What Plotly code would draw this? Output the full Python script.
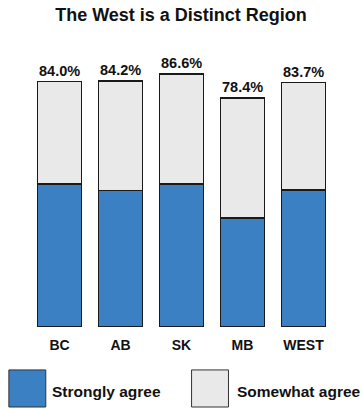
import plotly.graph_objects as go

# Survey results: share agreeing that the West is a distinct region
regions = ["BC", "AB", "SK", "MB", "WEST"]
total_agree = [84.0, 84.2, 86.6, 78.4, 83.7]
strongly_agree = [49.0, 46.7, 49.0, 37.4, 46.9]
somewhat_agree = [round(t - s, 1) for t, s in zip(total_agree, strongly_agree)]

series_names = ["Strongly agree", "Somewhat agree"]
BLUE = "#3b80c3"
GRAY = "#e9e9e9"
EDGE = "#1a1a1a"
FONT = "Liberation Sans, Arial, sans-serif"

fig = go.Figure()
fig.add_trace(go.Bar(
    x=regions, y=strongly_agree, name=series_names[0],
    marker=dict(color=BLUE, line=dict(color=EDGE, width=1.5)),
    hoverinfo="skip",
))
fig.add_trace(go.Bar(
    x=regions, y=somewhat_agree, name=series_names[1],
    marker=dict(color=GRAY, line=dict(color=EDGE, width=1.5)),
    hoverinfo="skip",
))

# Total labels above each stack
for r, t in zip(regions, total_agree):
    fig.add_annotation(
        x=r, y=t, text=f"<b>{t:.1f}%</b>", showarrow=False,
        yanchor="bottom", yshift=2, borderpad=0,
        font=dict(family=FONT, size=14.5, color="#111111"),
    )

# Custom legend with large swatches below the plot
legend_items = [
    (series_names[0], BLUE, -0.066, 0.055, 0.069),
    (series_names[1], GRAY, 0.533, 0.654, 0.675),
]
for name, color, x0, x1, tx in legend_items:
    fig.add_shape(
        type="rect", xref="paper", yref="paper",
        x0=x0, x1=x1, y0=-0.274, y1=-0.147,
        fillcolor=color, line=dict(color="#333333", width=1),
    )
    fig.add_annotation(
        xref="paper", yref="paper", x=tx, y=-0.22,
        xanchor="left", yanchor="middle", showarrow=False,
        text=f"<b>{name}</b>",
        font=dict(family=FONT, size=15.5, color="#111111"),
    )

fig.update_layout(
    width=362, height=409,
    margin=dict(l=29, r=28, t=35, b=82),
    barmode="stack", bargap=0.273,
    showlegend=False,
    plot_bgcolor="white", paper_bgcolor="white",
    title=dict(
        text="<b>The West is a Distinct Region</b>",
        x=0.5, xref="container", xanchor="center",
        y=1 - 15 / 409, yref="container", yanchor="middle",
        font=dict(family=FONT, size=18, color="#111111"),
    ),
    xaxis=dict(
        showgrid=False, showline=False, zeroline=False,
        ticks="outside", ticklen=5, tickcolor="rgba(0,0,0,0)",
        tickfont=dict(family=FONT, size=14, color="#111111"),
        tickvals=regions, ticktext=[f"<b>{r}</b>" for r in regions],
    ),
    yaxis=dict(range=[0, 100], visible=False, showgrid=False),
)

fig.write_html("out.html")
